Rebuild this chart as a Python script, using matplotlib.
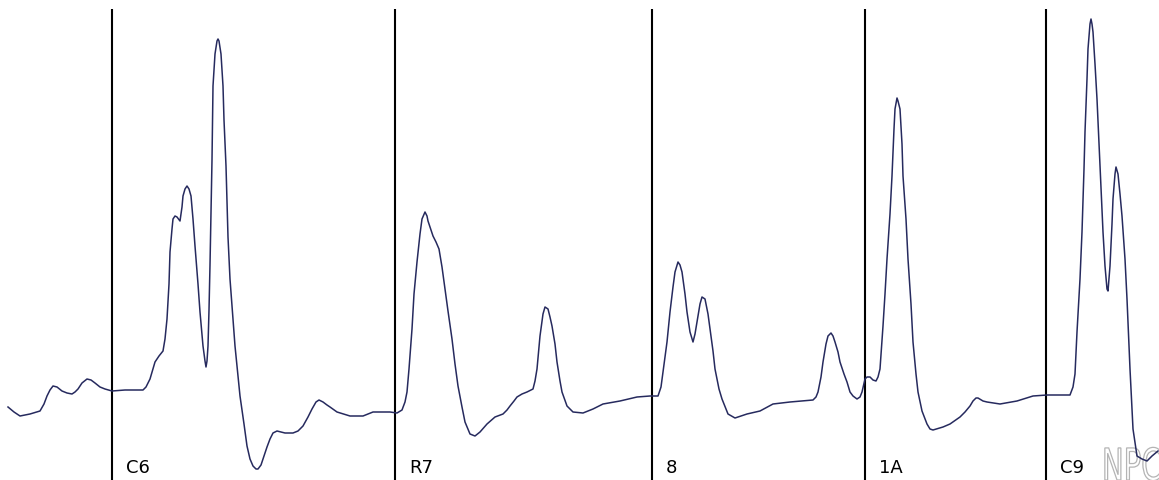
import numpy as np
import matplotlib
matplotlib.use("Agg")
import matplotlib.pyplot as plt
from matplotlib.textpath import TextPath
from matplotlib.patches import PathPatch
from matplotlib.font_manager import FontProperties
from matplotlib.transforms import Affine2D

# ── data: scan position and signal height of the trace ──────────────────────
scan = [8, 14, 20, 30, 40, 44, 47, 50, 53, 57, 62, 67, 72, 75, 78, 82, 87, 91, 95, 100,
        105, 112, 125, 143, 146, 150, 153, 155, 159, 163, 165, 167, 169, 170, 172, 173, 175,
        177, 180, 182, 183, 185, 187, 189, 191, 193, 195, 198, 200, 203, 205, 206, 207, 208,
        209, 210, 211, 212, 213, 215, 217, 218, 219, 221, 223, 224, 226, 228, 230, 233, 235,
        240, 244, 247, 250, 253, 256, 258, 261, 263, 267, 270, 273, 277, 285, 293, 298, 303,
        308, 312, 316, 319, 323, 327, 330, 337, 350, 363, 368, 373, 383, 390, 397, 402, 405,
        407, 409, 412, 414, 417, 420, 422, 425, 427, 428, 431, 433, 436, 439, 442, 445, 448,
        452, 455, 458, 462, 465, 470, 475, 480, 487, 495, 503, 507, 510, 514, 517, 522, 527,
        533, 535, 537, 540, 543, 545, 548, 550, 552, 555, 557, 560, 562, 567, 573, 583, 593,
        603, 620, 637, 650, 658, 661, 663, 667, 670, 673, 675, 678, 680, 682, 685, 687, 690,
        693, 695, 697, 700, 702, 705, 708, 710, 713, 715, 719, 722, 728, 735, 747, 760, 773,
        790, 813, 816, 818, 821, 823, 826, 828, 831, 833, 835, 838, 840, 844, 847, 850, 853,
        857, 860, 862, 865, 867, 870, 873, 876, 878, 880, 883, 885, 887, 890, 892, 894, 895,
        897, 898, 900, 902, 903, 906, 908, 911, 913, 916, 918, 922, 927, 930, 933, 943, 950,
        960, 965, 970, 973, 976, 978, 983, 987, 1000, 1017, 1033, 1047, 1060, 1070, 1073,
        1075, 1077, 1080, 1082, 1084, 1085, 1087, 1088, 1090, 1091, 1092, 1093, 1095, 1097,
        1100, 1103, 1105, 1107, 1108, 1110, 1112, 1113, 1115, 1116, 1118, 1120, 1122, 1125,
        1127, 1130, 1133, 1137, 1142, 1147, 1152, 1158]

signal = [73, 68, 64, 66, 69, 76, 84, 90, 94, 93, 89, 87, 86, 88, 91, 97, 101, 100, 97, 93,
          91, 89, 90, 90, 93, 101, 111, 118, 124, 129, 141, 161, 196, 228, 251, 261, 264,
          263, 259, 273, 284, 291, 294, 291, 284, 261, 234, 196, 168, 134, 119, 113, 119, 134,
          170, 215, 268, 320, 394, 426, 439, 441, 439, 426, 394, 360, 314, 243, 201, 161, 134,
          84, 56, 34, 21, 14, 11, 11, 15, 21, 33, 41, 47, 49, 47, 47, 49, 54,
          63, 71, 78, 80, 78, 75, 73, 68, 64, 64, 66, 68, 68, 68, 67, 70, 78,
          88, 111, 151, 186, 218, 246, 261, 268, 264, 259, 250, 244, 238, 231, 213, 191, 169,
          141, 116, 94, 73, 58, 46, 44, 48, 56, 63, 66, 70, 74, 79, 83, 86, 88,
          91, 99, 111, 144, 166, 173, 171, 163, 154, 136, 118, 99, 88, 74, 68, 67, 71,
          76, 79, 83, 84, 84, 93, 108, 138, 168, 193, 208, 218, 215, 208, 186, 168, 148,
          138, 146, 158, 176, 183, 181, 166, 151, 129, 111, 91, 81, 66, 62, 66, 69, 76,
          78, 80, 83, 88, 103, 118, 136, 144, 147, 144, 138, 128, 118, 106, 98, 88, 84,
          81, 83, 88, 101, 103, 103, 100, 99, 103, 111, 154, 186, 221, 266, 304, 351, 371,
          382, 379, 371, 336, 304, 261, 221, 176, 138, 106, 88, 69, 56, 51, 50, 53, 56,
          63, 68, 74, 79, 82, 82, 79, 78, 76, 79, 84, 85, 85, 85, 93,
          106, 148, 201, 248, 311, 348, 401, 431, 456, 461, 456, 448, 416, 381,
          314, 248, 214, 191, 189, 214, 256, 281, 306, 313, 306, 286, 264, 221,
          181, 111, 51, 24, 21, 19, 24, 29]

# lane markers and their labels
marker_pos = [112, 395, 652, 865, 1046]
marker_labels = ["C6", "R7", "8", "1A", "C9"]

TRACE_COLOR = "#262a5e"

# ── figure ──────────────────────────────────────────────────────────────────
fig = plt.figure(figsize=(11.59, 4.81), dpi=100)
fig.patch.set_facecolor("white")
ax = fig.add_axes([0, 0, 1, 1])
ax.set_xlim(0, 1159)
ax.set_ylim(0, 481)
ax.axis("off")

ax.plot(scan, signal, color=TRACE_COLOR, linewidth=1.1, zorder=3)

for pos, lab in zip(marker_pos, marker_labels):
    ax.vlines(pos, 0, 471, color="black", linewidth=1.5, zorder=2)
    ax.text(pos + 14, 4, lab, fontsize=13, color="black",
            ha="left", va="bottom", family="DejaVu Sans")

# faded, condensed watermark in the lower right corner (runs off the edge)
wm = TextPath((0, 0), "NPC", size=44, prop=FontProperties(family="DejaVu Sans"))
wm_tf = Affine2D().scale(0.66, 1.0).translate(1102, 0) + ax.transData
ax.add_patch(PathPatch(wm, transform=wm_tf, facecolor="white",
                       edgecolor="#b4b4b4", linewidth=0.9, zorder=1,
                       clip_on=True))

fig.savefig("out.png", dpi=100, facecolor="white")
